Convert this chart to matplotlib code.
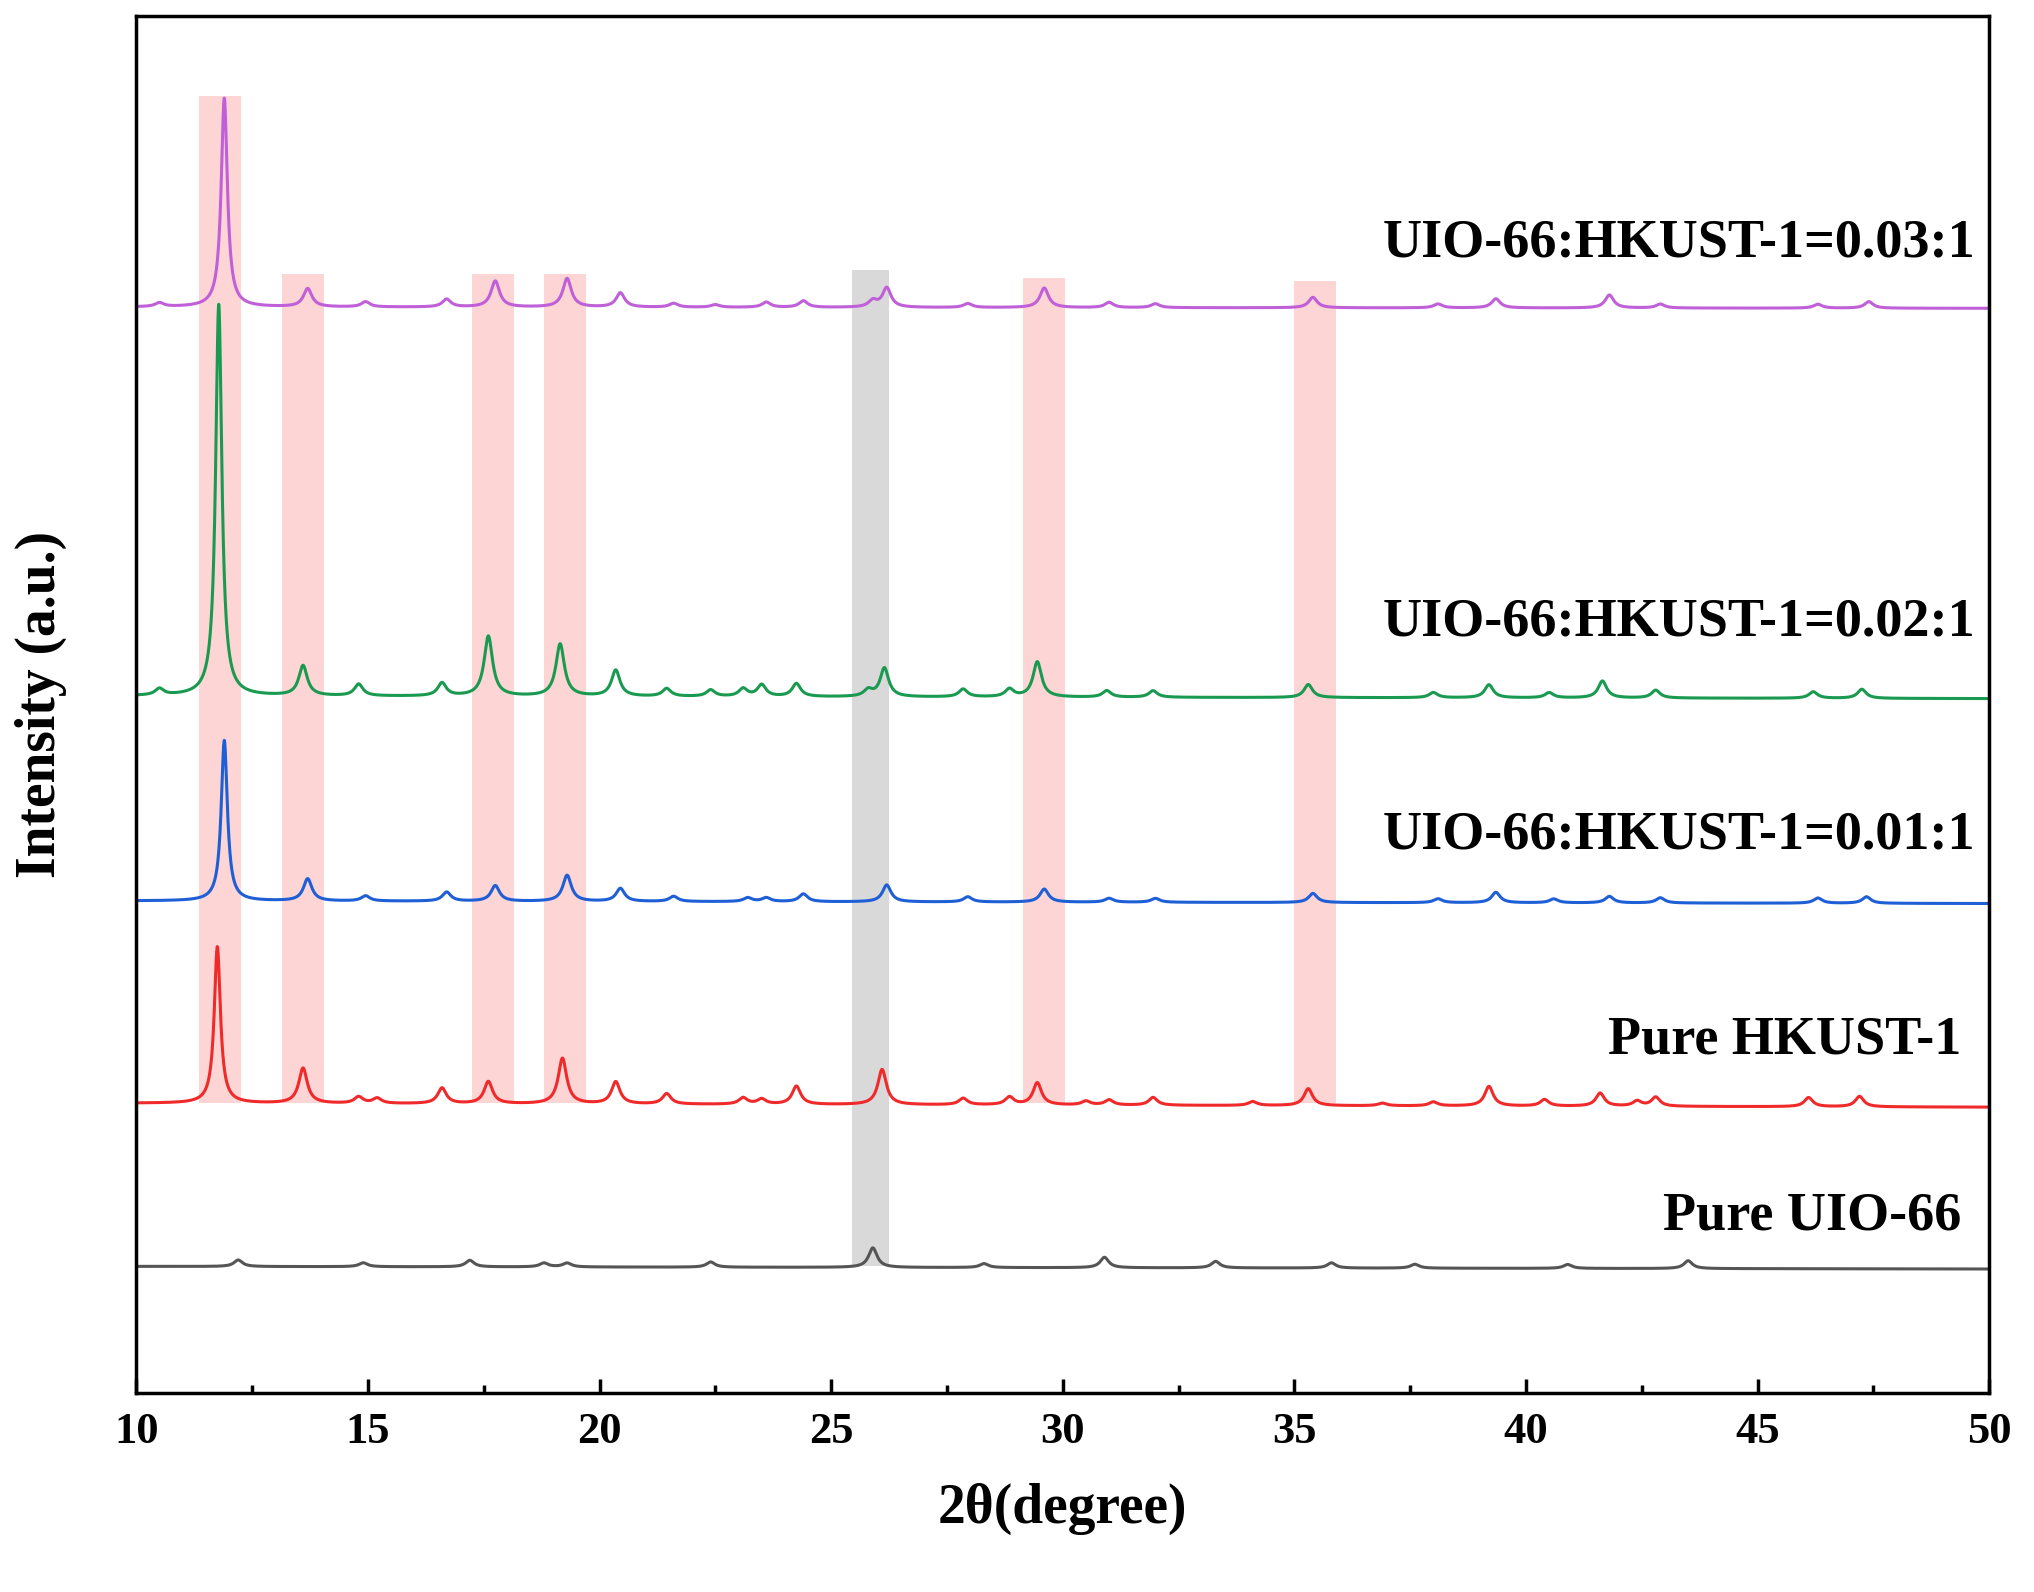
import numpy as np
import matplotlib.pyplot as plt
from matplotlib.ticker import MultipleLocator

plt.rcParams['font.family'] = ['Liberation Serif', 'DejaVu Serif']
plt.rcParams['font.weight'] = 'bold'

# peak lists: (2theta, height) ; baselines (start, end)
uio_pk = [(12.2, 5), (14.9, 3), (17.2, 5), (18.8, 3), (19.3, 3), (22.4, 4), (25.9, 15), (28.3, 3),
          (30.9, 8), (33.3, 5), (35.8, 4), (37.6, 3), (40.9, 3), (43.5, 6)]
hk_pk = [(11.75, 120), (13.6, 27), (14.8, 5), (15.2, 4), (16.6, 12), (17.6, 17), (19.2, 35), (20.35, 17),
         (21.45, 8), (23.1, 5), (23.5, 4), (24.25, 14), (26.1, 27), (27.85, 5), (28.85, 6), (29.45, 17),
         (30.5, 3), (31.0, 4), (31.95, 6), (34.1, 3), (35.3, 13), (36.9, 2), (38.0, 3), (39.2, 15),
         (40.4, 5), (41.6, 10), (42.4, 4), (42.8, 7), (46.1, 7), (47.2, 8)]
r01_pk = [(11.9, 123), (13.7, 17), (14.95, 4), (16.7, 7), (17.75, 12), (19.3, 20), (20.45, 10), (21.6, 4),
          (23.2, 3), (23.6, 3), (24.4, 6), (26.2, 13), (27.95, 4), (29.6, 10), (31.0, 3), (32.0, 3),
          (35.4, 7), (38.1, 3), (39.35, 8), (40.6, 3), (41.8, 5), (42.9, 4), (46.3, 4), (47.35, 5)]
r02_pk = [(10.5, 5), (11.78, 300), (13.6, 23), (14.8, 9), (16.6, 10), (17.6, 46), (19.15, 40), (20.35, 20),
          (21.45, 6), (22.4, 5), (23.1, 6), (23.5, 9), (24.25, 10), (25.8, 5), (26.15, 22), (27.85, 6),
          (28.85, 6), (29.45, 27), (30.95, 5), (31.95, 5), (35.3, 10), (38.0, 4), (39.2, 10), (40.5, 4),
          (41.65, 13), (42.8, 6), (46.2, 5), (47.25, 7)]
r03_pk = [(10.5, 3), (11.9, 160), (13.7, 14), (14.95, 4), (16.7, 6), (17.75, 20), (19.3, 22), (20.45, 11),
          (21.6, 3), (22.5, 2), (23.6, 4), (24.4, 5), (25.9, 5), (26.2, 15), (27.95, 3), (29.6, 15),
          (31.0, 4), (32.0, 3), (35.4, 8), (38.1, 3), (39.35, 7), (41.8, 10), (42.9, 3), (46.3, 3), (47.4, 5)]

series = [
    ('Pure UIO-66', uio_pk, (97, 95), '#555555', 135, 49.4),
    ('Pure HKUST-1', hk_pk, (222, 219), '#f02a2a', 270, 49.4),
    ('UIO-66:HKUST-1=0.01:1', r01_pk, (377, 375), '#1f5fd6', 427, 49.7),
    ('UIO-66:HKUST-1=0.02:1', r02_pk, (534, 532), '#1a9a50', 590, 49.7),
    ('UIO-66:HKUST-1=0.03:1', r03_pk, (832, 831), '#c060d8', 881, 49.7),
]

pink_bands = [(11.35, 12.25, 994), (13.15, 14.05, 857), (17.25, 18.15, 857), (18.8, 19.7, 857),
              (29.15, 30.05, 854), (35.0, 35.9, 852)]
gray_band = (25.45, 26.25, 97, 860)

x = np.linspace(10, 50, 8000)

def profile(peaks, base):
    y = np.linspace(base[0], base[1], x.size)
    for c, h in peaks:
        w = 0.08 if h > 50 else 0.11
        y = y + h / (1 + ((x - c) / w) ** 2)
    return y

fig = plt.figure(figsize=(20.34, 15.92), dpi=100)
ax = fig.add_axes([0.067, 0.125, 0.916 - 0.005, 0.865])

for a, b, top in pink_bands:
    ax.fill_between([a, b], 222, top, color='#fdd5d5', lw=0, zorder=0)
ax.fill_between([gray_band[0], gray_band[1]], gray_band[2], gray_band[3], color='#d9d9d9', lw=0, zorder=0)

for name, pk, base, col, ty, tx in series:
    ax.plot(x, profile(pk, base), color=col, lw=2.2)
    ax.text(tx, ty, name, ha='right', va='center', fontsize=39, fontweight='bold')

ax.set_xlim(10, 50)
ax.set_ylim(0, 1055)
ax.set_yticks([])
ax.xaxis.set_major_locator(MultipleLocator(5))
ax.xaxis.set_minor_locator(MultipleLocator(2.5))
ax.tick_params(axis='x', which='major', length=10, width=2.5, labelsize=32, direction='in', pad=14)
ax.tick_params(axis='x', which='minor', length=6, width=2.5, direction='in')
for s in ax.spines.values():
    s.set_linewidth(2.5)
ax.set_xlabel('2θ(degree)', fontsize=40, fontweight='bold', labelpad=22)
ax.set_ylabel('Intensity (a.u.)', fontsize=40, fontweight='bold', labelpad=50)
fig.savefig('out.png')
